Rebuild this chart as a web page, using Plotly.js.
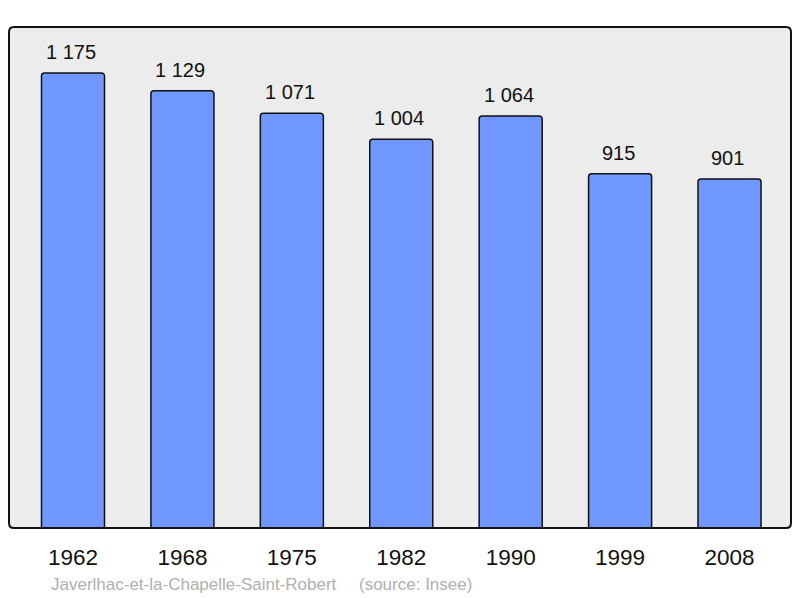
<!DOCTYPE html>
<html><head><meta charset="utf-8">
<script src="https://cdn.plot.ly/plotly-3.0.1.min.js"></script>
<style>body{margin:0;background:#fff}#c{width:800px;height:598px}</style>
</head><body><div id="c"></div>
<script>
var years = ["1962","1968","1975","1982","1990","1999","2008"];
var population = [1175,1129,1071,1004,1064,915,901];
var labels = ["1 175","1 129","1 071","1 004","1 064","915","901"];
var footerName = "Javerlhac-et-la-Chapelle-Saint-Robert";
var footerSource = "(source: Insee)";

var idx = years.map(function(_, i){return i;});
var W = 782, H = 501, r = 5;
var rx = r / W, ry = r / H;
var path = 'M ' + rx + ',0 L ' + (1-rx) + ',0 Q 1,0 1,' + ry +
  ' L 1,' + (1-ry) + ' Q 1,1 ' + (1-rx) + ',1 L ' + rx + ',1 Q 0,1 0,' + (1-ry) +
  ' L 0,' + ry + ' Q 0,0 ' + rx + ',0 Z';
var FONT = 'Liberation Sans, Arial, sans-serif';

var trace = {
  type: 'bar', x: idx, y: population, width: 0.576,
  marker: {color: '#7097ff', line: {color: '#111', width: 1.5}, cornerradius: 3},
  hoverinfo: 'none'
};
var ann = idx.map(function(i){
  return {x: i, y: population[i], xref: 'x', yref: 'y', text: labels[i], showarrow: false,
    xshift: -2, yanchor: 'bottom', yshift: 8, font: {family: FONT, size: 20, color: '#111'}};
});
ann.push({xref: 'paper', yref: 'paper', x: (49-9)/W, y: -(584-528)/H, xanchor: 'left', yanchor: 'middle',
  text: footerName, showarrow: false, font: {family: FONT, size: 17, color: '#b0b0b0'}});
ann.push({xref: 'paper', yref: 'paper', x: (357-9)/W, y: -(584-528)/H, xanchor: 'left', yanchor: 'middle',
  text: footerSource, showarrow: false, font: {family: FONT, size: 17, color: '#b0b0b0'}});

var layout = {
  width: 800, height: 598,
  margin: {l: 9, r: 9, t: 27, b: 70, pad: 0},
  paper_bgcolor: '#fff', plot_bgcolor: '#ececec',
  showlegend: false,
  xaxis: {range: [-0.585, 6.562], tickvals: idx, ticktext: years, showgrid: false, zeroline: false,
    ticks: '', ticklabelstandoff: 13, fixedrange: true,
    tickfont: {family: FONT, size: 22.5, color: '#111'}},
  yaxis: {range: [0, 1293.6], showgrid: false, zeroline: false, showticklabels: false, ticks: '', fixedrange: true},
  shapes: [{type: 'path', xref: 'paper', yref: 'paper', path: path, line: {color: '#111', width: 2}, layer: 'above'}],
  annotations: ann
};
Plotly.newPlot('c', [trace], layout, {displayModeBar: false, staticPlot: true});
</script></body></html>
